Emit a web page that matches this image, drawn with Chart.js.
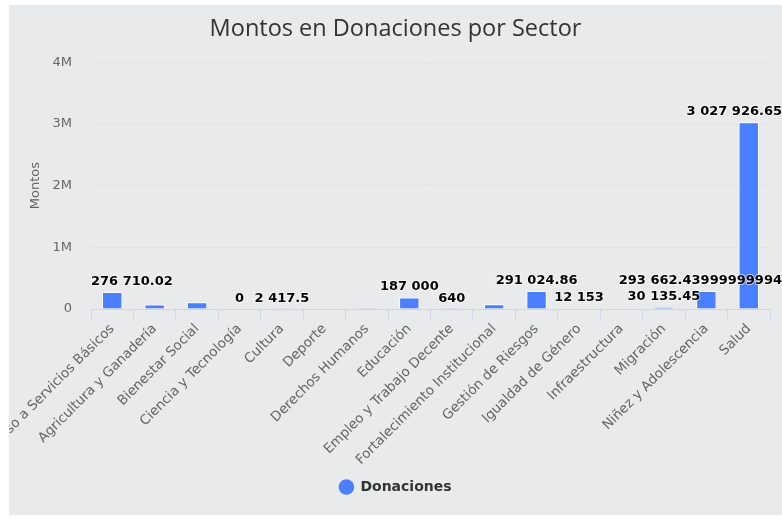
<!DOCTYPE html>
<html>
<head>
<meta charset="utf-8">
<script src="https://cdn.jsdelivr.net/npm/chart.js@4.4.1/dist/chart.umd.min.js"></script>
<style>
  body { margin: 0; background: #fff; }
  #wrap { position: absolute; left: 9px; top: 5px; width: 773px; height: 510px; background: #e9eaec; }
</style>
</head>
<body>
<div id="wrap"><canvas id="chart"></canvas></div>
<script>
const sectores = [
    'Acceso a Servicios Básicos', 'Agricultura y Ganadería', 'Bienestar Social',
    'Ciencia y Tecnología', 'Cultura', 'Deporte', 'Derechos Humanos', 'Educación',
    'Empleo y Trabajo Decente', 'Fortalecimiento Institucional', 'Gestión de Riesgos',
    'Igualdad de Género', 'Infraestructura', 'Migración', 'Niñez y Adolescencia', 'Salud'
];
const montos = [
    276710.02, 72000, 110000,
    0, 2417.5, null, 14500, 187000,
    640, 78000, 291024.86,
    12153, 8500, 30135.45, 293662.43999999994, 3027926.65
];
const serie = 'Donaciones';
const yMax = 4000000;
const yPaso = 1000000;

// separador de miles con espacio, como en la imagen
function formatMonto(v) {
    let [ent, dec] = String(v).split('.');
    ent = ent.replace(/\B(?=(\d{3})+(?!\d))/g, ' ');
    return dec ? ent + '.' + dec : ent;
}

const etiquetas = {
    id: 'etiquetas',
    afterDatasetsDraw(chart) {
        const ctx = chart.ctx;
        const area = chart.chartArea;
        const meta = chart.getDatasetMeta(0);
        ctx.save();
        ctx.font = 'bold 13px "DejaVu Sans"';
        let cajas = [];
        meta.data.forEach((bar, i) => {
            const v = montos[i];
            if (v === null) return;
            const txt = formatMonto(v);
            const w = ctx.measureText(txt).width;
            let x = Math.max(bar.x, area.left + w / 2);
            x = Math.min(x, chart.width - w / 2);
            cajas.push({ txt, x, y: bar.y - 7, w, v });
        });
        // las de mayor valor primero, se ocultan las que se tapan
        cajas.sort((a, b) => b.v - a.v);
        const puestas = [];
        cajas.forEach(c => {
            const box = { l: c.x - c.w / 2 + 1.5, r: c.x + c.w / 2 - 1.5, t: c.y - 11, b: c.y + 3 };
            const choca = puestas.some(d => box.l < d.r && box.r > d.l && box.t < d.b && box.b > d.t);
            if (choca) return;
            puestas.push(box);
            ctx.textAlign = 'center';
            ctx.textBaseline = 'alphabetic';
            ctx.lineWidth = 2;
            ctx.strokeStyle = 'rgba(255,255,255,0.6)';
            ctx.lineJoin = 'round';
            ctx.strokeText(c.txt, c.x, c.y);
            ctx.fillStyle = '#000';
            ctx.fillText(c.txt, c.x, c.y);
        });
        ctx.restore();
    }
};

Chart.defaults.font.family = '"DejaVu Sans"';

let ctx = document.getElementById('chart').getContext('2d');
let chart = new Chart(ctx, {
    type: 'bar',
    data: {
        labels: sectores,
        datasets: [{
            label: serie,
            data: montos,
            backgroundColor: '#4a80ff',
            borderColor: '#ffffff',
            borderWidth: 1,
            categoryPercentage: 0.6,
            barPercentage: 0.8
        }]
    },
    options: {
        responsive: true,
        maintainAspectRatio: false,
        animation: false,
        layout: { padding: { left: 0, right: 0, top: 0, bottom: 11 } },
        plugins: {
            title: {
                display: true,
                text: 'Montos en Donaciones por Sector',
                color: '#333',
                font: { family: '"Open Sans"', size: 23.5, weight: 'normal' },
                padding: { top: 10, bottom: 19 }
            },
            legend: {
                position: 'bottom',
                labels: {
                    usePointStyle: true,
                    pointStyle: 'circle',
                    boxHeight: 11,
                    color: '#333',
                    font: { size: 14, weight: 'bold' },
                    generateLabels(c) {
                        const items = Chart.defaults.plugins.legend.labels.generateLabels(c);
                        items.forEach(it => { it.lineWidth = 0; it.strokeStyle = 'rgba(0,0,0,0)'; });
                        return items;
                    }
                }
            },
            tooltip: { enabled: false }
        },
        scales: {
            x: {
                grid: { offset: true, drawOnChartArea: false, color: '#ccd6eb', tickLength: 10 },
                border: { color: '#ccd6eb' },
                ticks: { color: '#666', font: { size: 13.5 }, minRotation: 45, maxRotation: 45, autoSkip: false, padding: 2 },
                afterFit(s) { s.paddingLeft = 0; s.paddingRight = 12; s.height = 161; }
            },
            y: {
                min: 0,
                max: yMax,
                ticks: {
                    stepSize: yPaso,
                    color: '#666',
                    font: { size: 13 },
                    padding: 19,
                    callback: v => v === 0 ? '0' : (v / 1000000) + 'M'
                },
                grid: { color: '#e2e3e5', drawTicks: false },
                border: { display: false },
                title: { display: true, text: 'Montos', color: '#666', font: { size: 13 }, padding: { top: 19, bottom: 0 } },
                afterFit(s) { s.width = 82; }
            }
        }
    },
    plugins: [etiquetas]
});
</script>
</body>
</html>
